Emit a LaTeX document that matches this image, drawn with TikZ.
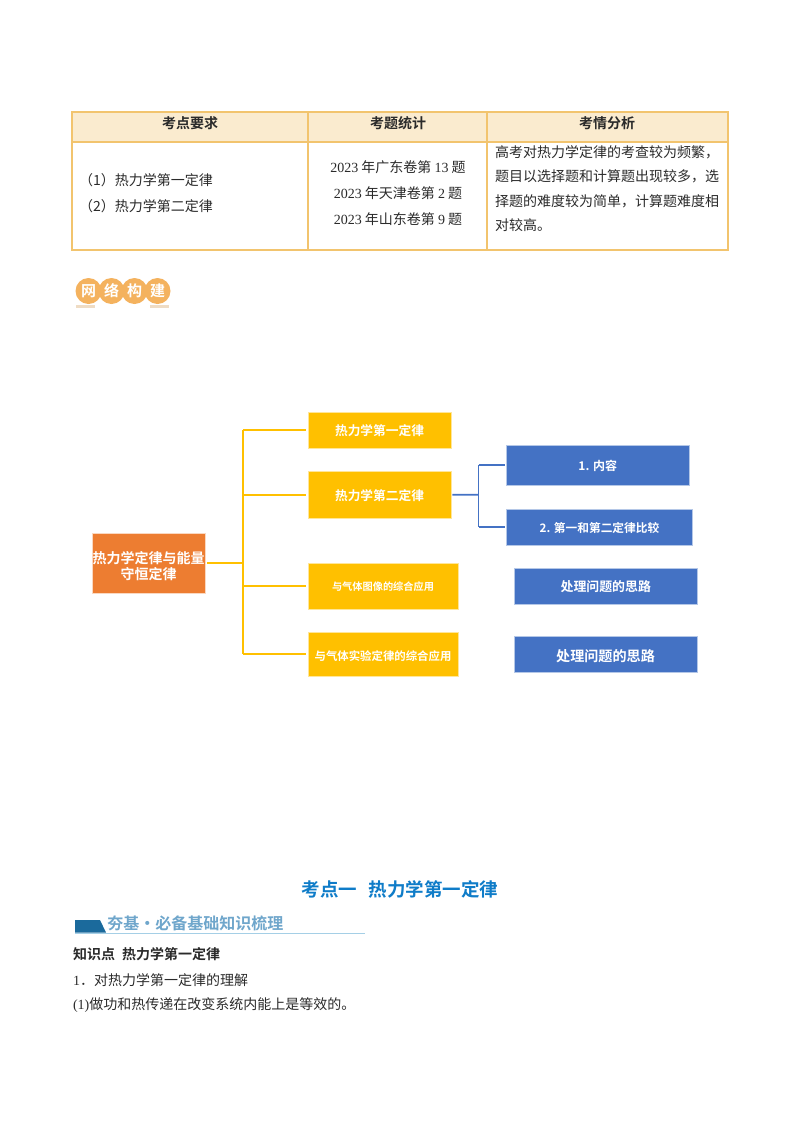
\documentclass[tikz,border=0pt]{standalone}
\usepackage{fontspec}
\setmainfont{Noto Sans CJK SC}[BoldFont=* Bold]
\newfontfamily\lat{Liberation Serif}
\definecolor{tblline}{HTML}{F2C46E}
\definecolor{tblhead}{HTML}{FAEBCF}
\definecolor{rootc}{HTML}{ED7D31}
\definecolor{yel}{HTML}{FFC000}
\definecolor{blu}{HTML}{4472C4}
\definecolor{badge}{HTML}{F4B25E}
\definecolor{badgeb}{HTML}{EFDCC4}
\definecolor{titlec}{HTML}{0F7CC8}
\definecolor{subc}{HTML}{6FA6CB}
\definecolor{subd}{HTML}{1B6A9C}
\definecolor{subl}{HTML}{A5CFE6}
\definecolor{body}{HTML}{2A2A2A}
\newcommand{\pxfont}[1]{\pgfmathsetmacro{\fsz}{#1*0.75}\pgfmathsetmacro{\fsl}{#1*0.86}\fontsize{\fsz pt}{\fsl pt}\selectfont}
\newcommand{\lw}[1]{\raisebox{\dimexpr-0.38em-0.75pt\relax}[0pt][0pt]{#1}}
\newcommand{\lww}[1]{\raisebox{\dimexpr-0.38em-1.5pt\relax}[0pt][0pt]{#1}}
% name, x1, y1, x2, y2, style, text
\newcommand{\bx}[7]{\node[#6,minimum width={(#4-#2)*0.75pt},minimum height={(#5-#3)*0.75pt}] (#1) at ({(#2+#4)/2},{(#3+#5)/2}) {#7};}
\tikzset{
  x=0.75pt,y=-0.75pt,
  cell/.style={draw=tblline,line width=1pt,inner sep=0pt,outer sep=0pt},
  headcell/.style={cell,fill=tblhead},
  rootbox/.style={fill=rootc,draw=white!70!rootc,line width=0.3pt,text=white,inner sep=0pt,outer sep=0pt},
  ybox/.style={fill=yel,draw=white!60!yel,line width=0.3pt,text=white,inner sep=0pt,outer sep=0pt},
  bbox/.style={fill=blu,draw=white!60!blu,line width=0.3pt,text=white,inner sep=0pt,outer sep=0pt},
  yline/.style={draw=yel,line width=1.2pt},
  bline/.style={draw=blu,line width=1.4pt},
  txt/.style={inner sep=0pt,outer sep=0pt,text=body},
  badgedot/.style={circle,fill=badge,inner sep=0pt,minimum size=19.5pt,text=white,font=\pxfont{15}\bfseries},
}
\begin{document}
\begin{tikzpicture}
\useasboundingbox (0,0) rectangle (800,1132);
% table
\bx{h1}{72}{112}{308}{142}{headcell}{}
\bx{h2}{308}{112}{487}{142}{headcell}{}
\bx{h3}{487}{112}{728}{142}{headcell}{}
\bx{c1}{72}{142}{308}{250}{cell}{}
\bx{c2}{308}{142}{487}{250}{cell}{}
\bx{c3}{487}{142}{728}{250}{cell}{}
\node[txt,font=\pxfont{14}\bfseries] (ht1) at (190,123) {考点要求};
\node[txt,font=\pxfont{14}\bfseries] (ht2) at (398,123) {考题统计};
\node[txt,font=\pxfont{14}\bfseries] (ht3) at (607,123) {考情分析};
\node[txt,anchor=west,font=\pxfont{14}] (l1) at (79,180) {（1）热力学第一定律};
\node[txt,anchor=west,font=\pxfont{14}] (l2) at (79,206.5) {（2）热力学第二定律};
\node[txt,font=\pxfont{14}] (m1) at (398,167) {{\lat 2023} 年广东卷第 {\lat 13} 题};
\node[txt,font=\pxfont{14}] (m2) at (398,193) {{\lat 2023} 年天津卷第 {\lat 2} 题};
\node[txt,font=\pxfont{14}] (m3) at (398,219) {{\lat 2023} 年山东卷第 {\lat 9} 题};
\node[txt,anchor=west,font=\pxfont{14}] (r1) at (495,152) {高考对热力学定律的考查较为频繁，};
\node[txt,anchor=west,font=\pxfont{14}] (r2) at (495,176) {题目以选择题和计算题出现较多，选};
\node[txt,anchor=west,font=\pxfont{14}] (r3) at (495,201) {择题的难度较为简单，计算题难度相};
\node[txt,anchor=west,font=\pxfont{14}] (r4) at (495,225) {对较高。};
% badge
\fill[badgeb] (76,304.5) rectangle (95,307.5);
\fill[badgeb] (150,304.5) rectangle (169,307.5);
\node[badgedot] (b1) at (88.5,291) {网};
\node[badgedot] (b2) at (111.5,291) {络};
\node[badgedot] (b3) at (134.5,291) {构};
\node[badgedot] (b4) at (157.5,291) {建};
% diagram boxes
\bx{root}{92}{533}{205}{593.5}{rootbox}{}
\node[inner sep=0pt,text=white,align=center,font=\pxfont{14}\bfseries] (roottext) at (148.5,566) {热力学定律与能量\\守恒定律};
\bx{y1}{308}{412}{451}{448}{ybox,font=\pxfont{12.7}\bfseries}{\lw{热力学第一定律}}
\bx{y2}{308}{471.5}{451}{518}{ybox,font=\pxfont{12.7}\bfseries}{\lw{热力学第二定律}}
\bx{y3}{308}{563}{458}{609}{ybox,font=\pxfont{10.2}\bfseries}{\lw{与气体图像的综合应用}}
\bx{y4}{308}{632}{458}{676}{ybox,font=\pxfont{11.4}\bfseries}{\lww{与气体实验定律的综合应用}}
\bx{n1}{506}{445}{689.5}{485.6}{bbox,font=\pxfont{12}\bfseries}{\lw{1. 内容}}
\bx{n2}{506.5}{509}{692.5}{545}{bbox,font=\pxfont{11.7}\bfseries}{\lw{2. 第一和第二定律比较}}
\bx{n3}{514}{568}{697.5}{604}{bbox,font=\pxfont{12.9}\bfseries}{\lw{处理问题的思路}}
\bx{n4}{514}{636}{697}{672}{bbox,font=\pxfont{14.1}\bfseries}{\lww{处理问题的思路}}
% connectors
\coordinate (jy) at (243,563.25);
\coordinate (jb) at (478.5,494.7);
\draw[yline,shorten <=1.5pt] (root.east) -- (jy);
\draw[yline] (jy |- y1.west) -- (jy |- y4.west);
\draw[yline,shorten >=1.5pt] (jy |- y1.west) -- (y1.west);
\draw[yline,shorten >=1.5pt] (jy |- y2.west) -- (y2.west);
\draw[yline,shorten >=1.5pt] (jy |- y3.west) -- (y3.west);
\draw[yline,shorten >=1.5pt] (jy |- y4.west) -- (y4.west);
\draw[bline,shorten <=1pt] (y2.east) -- (jb);
\draw[bline] (jb |- n1.west) -- (jb |- n2.west);
\draw[bline,shorten >=1pt] (jb |- n1.west) -- (n1.west);
\draw[bline,shorten >=1pt] (jb |- n2.west) -- (n2.west);
% section heading
\node[inner sep=0pt,text=titlec,font=\pxfont{18.5}\bfseries] (title) at (400,889) {考点一\hspace{0.6em}热力学第一定律};
\fill[subd] (75,920) -- (100,920) -- (106,932.5) -- (75,932.5) -- cycle;
\node[inner sep=0pt,anchor=west,text=subc,font=\pxfont{16}\bfseries] (sub) at (107,923) {夯基·必备基础知识梳理};
\draw[subl,line width=0.6pt] (75,933.5) -- (365,933.5);
\node[txt,anchor=west,font=\pxfont{14}\bfseries] (k0) at (73,954.5) {知识点\hspace{0.5em}热力学第一定律};
\node[txt,anchor=west,font=\pxfont{14}] (k1) at (73,980) {{\lat 1}．对热力学第一定律的理解};
\node[txt,anchor=west,font=\pxfont{14}] (k2) at (73,1005.5) {{\lat (1)}做功和热传递在改变系统内能上是等效的。};
\end{tikzpicture}
\end{document}
